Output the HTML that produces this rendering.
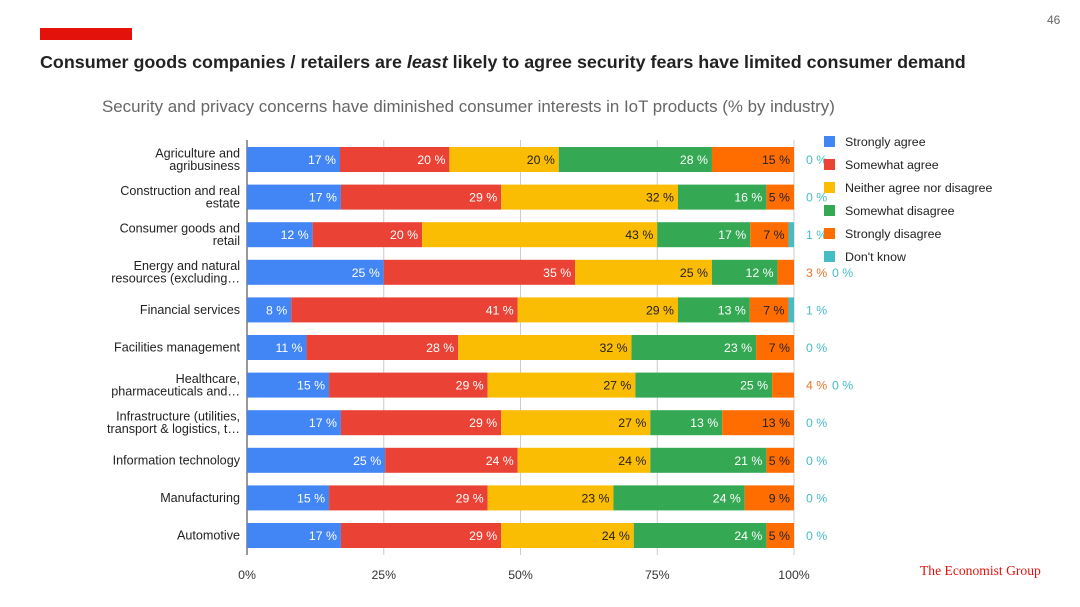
<!DOCTYPE html>
<html><head><meta charset="utf-8"><style>
body{margin:0;background:#fff;font-family:"Liberation Sans",sans-serif;}
#wrap{position:relative;width:1080px;height:607px;overflow:hidden;}
</style></head><body>
<div id="wrap">
<div style="position:absolute;left:40px;top:28px;width:92px;height:12px;background:#e3120b"></div>
<div style="position:absolute;left:1047px;top:13px;font-size:12px;color:#666">46</div>
<div style="position:absolute;left:40px;top:52px;font-size:17.9px;font-weight:bold;color:#222;white-space:nowrap">Consumer goods companies / retailers are <i>least</i> likely to agree security fears have limited consumer demand</div>
<div style="position:absolute;left:102px;top:97px;font-size:16.9px;color:#666;white-space:nowrap">Security and privacy concerns have diminished consumer interests in IoT products (% by industry)</div>
<div style="position:absolute;left:920px;top:563px;font-family:'Liberation Serif',serif;font-size:13.6px;color:#e3120b">The Economist Group</div>
<svg id="chart" width="1080" height="607" style="position:absolute;left:0;top:0" font-family="Liberation Sans, sans-serif"></svg>
</div>
<script>
const categories=[["Agriculture and","agribusiness"],["Construction and real","estate"],["Consumer goods and","retail"],["Energy and natural","resources (excluding…"],["Financial services"],["Facilities management"],["Healthcare,","pharmaceuticals and…"],["Infrastructure (utilities,","transport & logistics, t…"],["Information technology"],["Manufacturing"],["Automotive"]];
const seriesNames=["Strongly agree","Somewhat agree","Neither agree nor disagree","Somewhat disagree","Strongly disagree","Don't know"];
const stronglyAgree=[17,17,12,25,8,11,15,17,25,15,17];
const somewhatAgree=[20,29,20,35,41,28,29,29,24,29,29];
const neither=[20,32,43,25,29,32,27,27,24,23,24];
const somewhatDisagree=[28,16,17,12,13,23,25,13,21,24,24];
const stronglyDisagree=[15,5,7,3,7,7,4,13,5,9,5];
const dontKnow=[0,0,1,0,1,0,0,0,0,0,0];
const xTicks=["0%","25%","50%","75%","100%"];
const series=[stronglyAgree,somewhatAgree,neither,somewhatDisagree,stronglyDisagree,dontKnow];
const colors=["#4285f4","#ea4335","#fbbc04","#34a853","#ff6d01","#46bdc6"];
const textCol=["#fff","#fff","#222","#fff","#222","#fff"];
const outCol=["#4285f4","#ea4335","#c99700","#34a853","#e8762c","#46bdc6"];
const svg=document.getElementById('chart');const NS="http://www.w3.org/2000/svg";
const X0=247,X1=794,Y0=159.5,STEP=37.6,BH=25;
const xs=f=>X0+(X1-X0)*f;
const ys=i=>Y0+i*STEP;
function mk(t,a,txt){const e=document.createElementNS(NS,t);for(const k in a)e.setAttribute(k,a[k]);if(txt!=null)e.textContent=txt;svg.appendChild(e);return e;}
xTicks.forEach((t,i)=>{const x=xs(i/(xTicks.length-1));
 const g=mk('line',{x1:x,x2:x,y1:140,y2:555,stroke:i==0?'#333':'#ccc','stroke-width':1});
 
 const l=mk('text',{x:x,y:579,'font-size':12.3,'text-anchor':'middle',fill:'#333'},t);
 });
categories.forEach((c,i)=>{const y=ys(i);
 c.forEach((ln,j)=>{const t=mk('text',{x:240,y:y+4+(j-(c.length-1)/2)*12.5,'font-size':12.6,'text-anchor':'end',fill:'#222'},ln);
 });
 let total=0;series.forEach(s=>total+=s[i]);
 let acc=0,outX=806;
 series.forEach((s,k)=>{const v=s[i];const xa=xs(acc/total),xb=xs((acc+v)/total);acc+=v;
  if(v>0){const r=mk('rect',{x:xa,y:y-BH/2,width:xb-xa,height:BH,fill:colors[k]});
   }
  if(v>=5){const t=mk('text',{x:xb-4,y:y+4.5,'font-size':12.3,'text-anchor':'end',fill:textCol[k]},v+' %');
   }
  else{const t=mk('text',{x:outX,y:y+4.5,'font-size':12.3,fill:outCol[k]},v+' %');
   outX+=26;}
 });
});
seriesNames.forEach((n,k)=>{const y=141+k*23;
 const r=mk('rect',{x:824,y:y-5,width:11,height:11,fill:colors[k]});
 
 const t=mk('text',{x:845,y:y+5,'font-size':12.4,fill:'#222'},n);
 });
</script>
</body></html>
